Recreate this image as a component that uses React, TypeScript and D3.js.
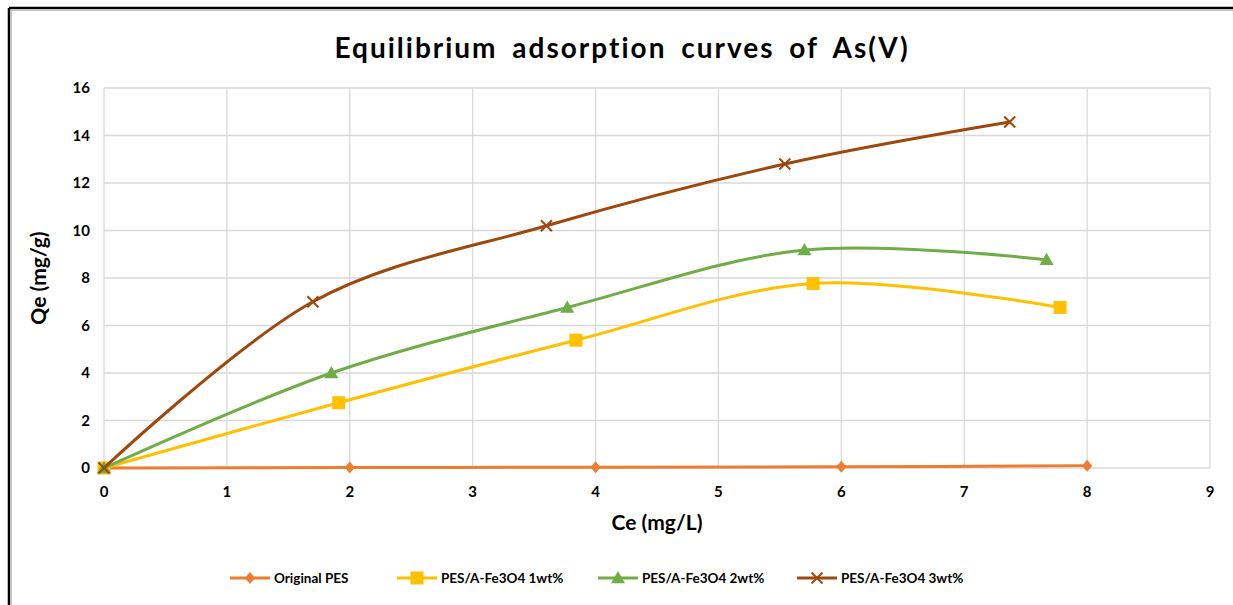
import React from "react";
import * as d3 from "d3";

const title = "Equilibrium adsorption curves of As(V)";
const xLabel = "Ce (mg/L)";
const yLabel = "Qe (mg/g)";
const xTicks = [0, 1, 2, 3, 4, 5, 6, 7, 8, 9];
const yTicks = [0, 2, 4, 6, 8, 10, 12, 14, 16];

const seriesNames = ["Original PES", "PES/A-Fe3O4 1wt%", "PES/A-Fe3O4 2wt%", "PES/A-Fe3O4 3wt%"];
const seriesColors = ["#ED7D31", "#FFC000", "#70AD47", "#9E480E"];
const seriesMarkers = ["diamond", "square", "triangle", "x"];

const pesX = [0, 2, 4, 6, 8];
const pesY = [0, 0.02, 0.03, 0.05, 0.1];
const w1X = [0, 1.91, 3.84, 5.77, 7.78];
const w1Y = [0, 2.75, 5.38, 7.77, 6.76];
const w2X = [0, 1.85, 3.77, 5.7, 7.67];
const w2Y = [0, 4.0, 6.76, 9.18, 8.77];
const w3X = [0, 1.7, 3.6, 5.54, 7.37];
const w3Y = [0, 7.0, 10.2, 12.8, 14.57];

const seriesX = [pesX, w1X, w2X, w3X];
const seriesY = [pesY, w1Y, w2Y, w3Y];

const FONT = "Lato, 'Open Sans', sans-serif";

function Marker({ type, color, cx, cy }: { type: string; color: string; cx: number; cy: number }) {
  if (type === "diamond") {
    const s = 6;
    return <path d={`M${cx},${cy - s}L${cx + s * 0.85},${cy}L${cx},${cy + s}L${cx - s * 0.85},${cy}Z`} fill={color} />;
  }
  if (type === "square") {
    const s = 6.5;
    return <rect x={cx - s} y={cy - s} width={2 * s} height={2 * s} fill={color} />;
  }
  if (type === "triangle") {
    const s = 7;
    return <path d={`M${cx},${cy - s}L${cx + s},${cy + s * 0.75}L${cx - s},${cy + s * 0.75}Z`} fill={color} />;
  }
  const s = 5.5;
  return (
    <path d={`M${cx - s},${cy - s}L${cx + s},${cy + s}M${cx - s},${cy + s}L${cx + s},${cy - s}`} stroke={color} strokeWidth={2} fill="none" />
  );
}

export default function App() {
  const W = 1233;
  const H = 605;
  const x = d3.scaleLinear().domain([0, 9]).range([104, 1210]);
  const y = d3.scaleLinear().domain([0, 16]).range([468, 88]);
  const line = d3
    .line<[number, number]>()
    .x((d) => x(d[0]))
    .y((d) => y(d[1]))
    .curve(d3.curveCardinal.tension(0));

  const legendItems = [
    { lineX: 230, textX: 274 },
    { lineX: 397, textX: 441 },
    { lineX: 598, textX: 642 },
    { lineX: 797, textX: 841 },
  ];

  return (
    <svg width={W} height={H} style={{ position: "absolute", left: 0, top: 0, background: "#fff" }} fontFamily={FONT}>
      <rect x={0} y={0} width={W} height={H} fill="#fff" />
      {/* frame */}
      <line x1={9} y1={8} x2={W} y2={8} stroke="#000" strokeWidth={2.5} />
      <line x1={W} y1={10.5} x2={11} y2={10.5} stroke="#c8c8c8" strokeWidth={1.2} />
      <line x1={9} y1={8} x2={9} y2={H} stroke="#000" strokeWidth={2.5} />
      <line x1={11.5} y1={10} x2={11.5} y2={H} stroke="#c8c8c8" strokeWidth={1.2} />

      <text x={622} y={58} textAnchor="middle" fontSize={28} fontWeight={700} letterSpacing={2} wordSpacing={6} fill="#000">
        {title}
      </text>

      {/* gridlines */}
      {yTicks.map((t) => (
        <line key={"gy" + t} x1={x(0)} x2={x(9)} y1={y(t)} y2={y(t)} stroke="#D9D9D9" strokeWidth={1.3} />
      ))}
      {xTicks.map((t) => (
        <line key={"gx" + t} x1={x(t)} x2={x(t)} y1={y(0)} y2={y(16)} stroke="#D9D9D9" strokeWidth={1.3} />
      ))}

      {/* tick labels */}
      {yTicks.map((t) => (
        <text key={"ty" + t} x={90} y={y(t) + 5} textAnchor="end" fontSize={15} fontWeight={700} fill="#000">
          {t}
        </text>
      ))}
      {xTicks.map((t) => (
        <text key={"tx" + t} x={x(t)} y={497} textAnchor="middle" fontSize={15} fontWeight={700} fill="#000">
          {t}
        </text>
      ))}

      <text x={657} y={530} textAnchor="middle" fontSize={21} fontWeight={700} fill="#000">
        {xLabel}
      </text>
      <text transform={`translate(46,${y(8)}) rotate(-90)`} textAnchor="middle" fontSize={21} fontWeight={700} fill="#000">
        {yLabel}
      </text>

      {/* series */}
      {seriesNames.map((name, i) => {
        const pts: [number, number][] = seriesX[i].map((v, j) => [v, seriesY[i][j]]);
        return (
          <g key={name}>
            <path d={line(pts) || ""} fill="none" stroke={seriesColors[i]} strokeWidth={3} strokeLinecap="round" />
            {pts.map((p, j) => (
              <Marker key={j} type={seriesMarkers[i]} color={seriesColors[i]} cx={x(p[0])} cy={y(p[1])} />
            ))}
          </g>
        );
      })}

      {/* legend */}
      {seriesNames.map((name, i) => {
        const it = legendItems[i];
        return (
          <g key={"lg" + name}>
            <line x1={it.lineX} x2={it.lineX + 40} y1={578} y2={578} stroke={seriesColors[i]} strokeWidth={3} />
            <Marker type={seriesMarkers[i]} color={seriesColors[i]} cx={it.lineX + 20} cy={578} />
            <text x={it.textX} y={583} fontSize={13.5} fontWeight={700} fill="#000">
              {name}
            </text>
          </g>
        );
      })}
    </svg>
  );
}
